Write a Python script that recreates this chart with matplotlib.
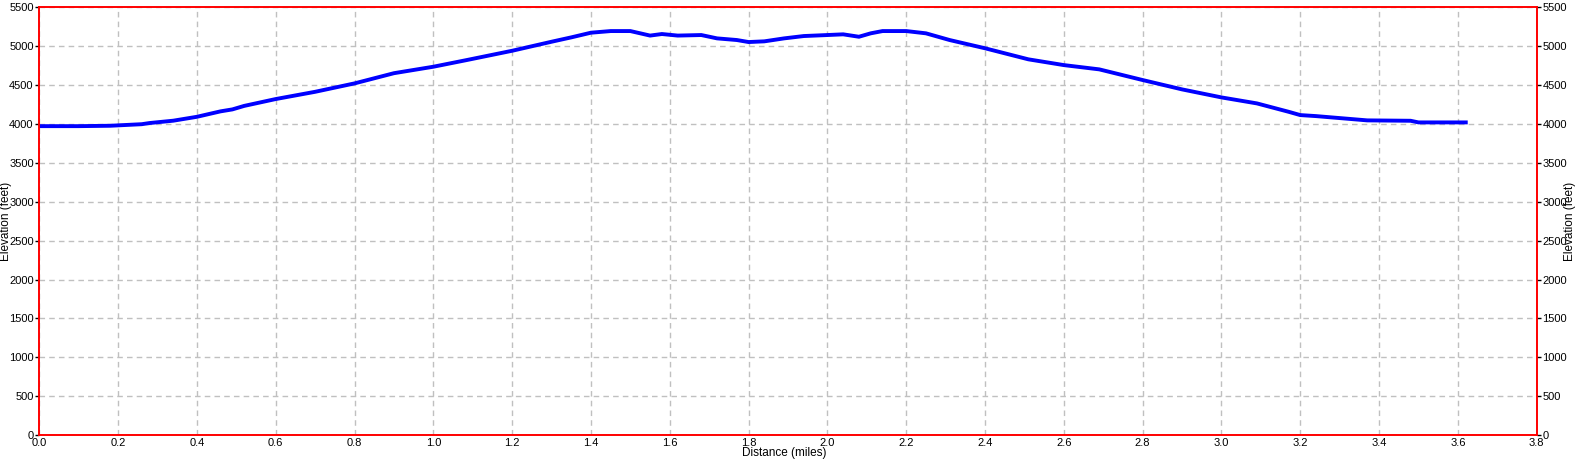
import matplotlib
matplotlib.use("Agg")
import matplotlib.pyplot as plt

# elevation profile
distance = [0.00, 0.10, 0.18, 0.22, 0.26, 0.28, 0.34, 0.40, 0.46, 0.49, 0.52,
            0.60, 0.70, 0.80, 0.90, 1.00, 1.085, 1.20, 1.30, 1.35, 1.40, 1.45,
            1.50, 1.55, 1.58, 1.62, 1.68, 1.72, 1.77, 1.80, 1.84, 1.89, 1.94,
            2.00, 2.04, 2.08, 2.11, 2.14, 2.20, 2.25, 2.31, 2.40, 2.51, 2.60,
            2.69, 2.80, 2.90, 3.00, 3.09, 3.17, 3.20, 3.24, 3.28, 3.37, 3.48,
            3.50, 3.62]
elevation = [3970, 3970, 3975, 3985, 3995, 4010, 4040, 4090, 4160, 4185, 4230,
             4318, 4411, 4519, 4650, 4733, 4819, 4938, 5054, 5110, 5170, 5191,
             5191, 5133, 5153, 5133, 5140, 5097, 5076, 5050, 5059, 5097, 5127,
             5140, 5149, 5118, 5162, 5191, 5191, 5162, 5076, 4970, 4828, 4754,
             4699, 4562, 4442, 4339, 4262, 4155, 4112, 4099, 4082, 4044, 4039,
             4018, 4018]

x_ticks = [round(0.2 * i, 1) for i in range(20)]
y_ticks = list(range(0, 5501, 500))

plt.rcParams['font.family'] = ['Liberation Sans', 'DejaVu Sans']
plt.rcParams['font.size'] = 8.5

fig = plt.figure(figsize=(15.76, 4.61), dpi=100)
ax = fig.add_axes([39.3 / 1576, (461 - 435.3) / 461, 1497.4 / 1576, 428.3 / 461])

ax.plot(distance, elevation, color='#0000ff', linewidth=2.8, solid_joinstyle='miter')

ax.set_xlim(0, 3.8)
ax.set_ylim(0, 5500)
ax.set_xticks(x_ticks)
ax.set_xticklabels([f"{t:.1f}" for t in x_ticks])
ax.set_yticks(y_ticks)
ax.grid(True, color='#c0c0c0', linestyle=(0, (4, 3)), linewidth=1)
ax.tick_params(axis='x', length=0, pad=2, labelsize=8)
ax.tick_params(axis='y', length=3, pad=1, width=1, labelsize=8)
for s in ax.spines.values():
    s.set_color('#ff0000')
    s.set_linewidth(1.2)

ax2 = ax.twinx()
ax2.set_ylim(0, 5500)
ax2.set_yticks(y_ticks)
ax2.tick_params(axis='y', length=3, pad=1, width=1, labelsize=8)
for s in ax2.spines.values():
    s.set_color('#ff0000')
    s.set_linewidth(1.2)

# axis titles sit over the tick labels, as in the original
fig.text(784 / 1576, 1 - 453 / 461, 'Distance (miles)', ha='center', va='center')
fig.text(6 / 1576, 1 - 221 / 461, 'Elevation (feet)', rotation=90, ha='center', va='center')
fig.text(1570 / 1576, 1 - 221 / 461, 'Elevation (feet)', rotation=90, ha='center', va='center')

fig.savefig('out.png', dpi=100)
